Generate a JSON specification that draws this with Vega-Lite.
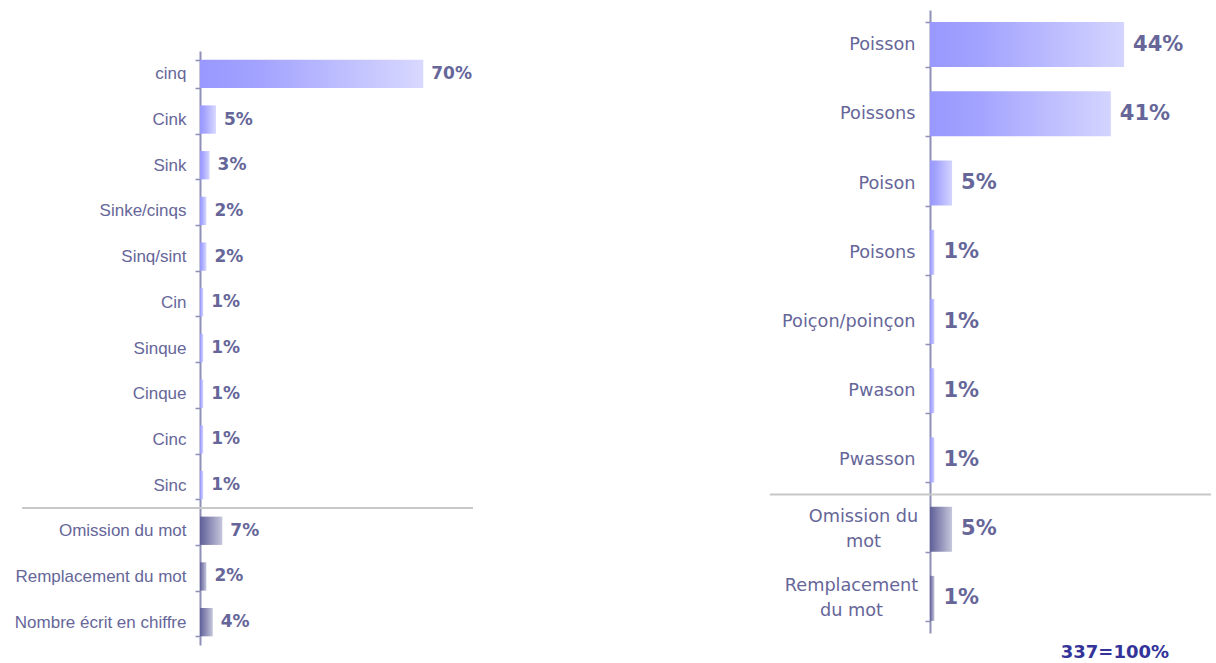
{
  "$schema": "https://vega.github.io/schema/vega-lite/v6.json",
  "background": "white",
  "padding": {"top": 1, "left": 14, "right": 5, "bottom": 0},
  "spacing": 294,
  "config": {"view": {"stroke": null}},
  "datasets": {
    "left": [
      {"cat": "cinq", "pct": 70, "grp": "main", "label": "70%"},
      {"cat": "Cink", "pct": 5, "grp": "main", "label": "5%"},
      {"cat": "Sink", "pct": 3, "grp": "main", "label": "3%"},
      {"cat": "Sinke/cinqs", "pct": 2, "grp": "main", "label": "2%"},
      {"cat": "Sinq/sint", "pct": 2, "grp": "main", "label": "2%"},
      {"cat": "Cin", "pct": 1, "grp": "main", "label": "1%"},
      {"cat": "Sinque", "pct": 1, "grp": "main", "label": "1%"},
      {"cat": "Cinque", "pct": 1, "grp": "main", "label": "1%"},
      {"cat": "Cinc", "pct": 1, "grp": "main", "label": "1%"},
      {"cat": "Sinc", "pct": 1, "grp": "main", "label": "1%"},
      {"cat": "Omission du mot", "pct": 7, "grp": "other", "label": "7%"},
      {"cat": "Remplacement du mot", "pct": 2, "grp": "other", "label": "2%"},
      {"cat": "Nombre écrit en chiffre", "pct": 4, "grp": "other", "label": "4%"}
    ],
    "right": [
      {"cat": "Poisson", "pct": 44, "grp": "main", "label": "44%"},
      {"cat": "Poissons", "pct": 41, "grp": "main", "label": "41%"},
      {"cat": "Poison", "pct": 5, "grp": "main", "label": "5%"},
      {"cat": "Poisons", "pct": 1, "grp": "main", "label": "1%"},
      {"cat": "Poiçon/poinçon", "pct": 1, "grp": "main", "label": "1%"},
      {"cat": "Pwason", "pct": 1, "grp": "main", "label": "1%"},
      {"cat": "Pwasson", "pct": 1, "grp": "main", "label": "1%"},
      {"cat": "Omission du mot", "pct": 5, "grp": "other", "label": "5%"},
      {"cat": "Remplacement du mot", "pct": 1, "grp": "other", "label": "1%"}
    ]
  },
  "hconcat": [
    {
      "width": 273,
      "height": 635,
      "data": {"name": "left"},
      "encoding": {
        "y": {
          "field": "cat", "type": "nominal", "sort": null,
          "scale": {"domain": ["cinq", "Cink", "Sink", "Sinke/cinqs", "Sinq/sint", "Cin", "Sinque", "Cinque", "Cinc", "Sinc", "Omission du mot", "Remplacement du mot", "Nombre écrit en chiffre"], "range": [41, 635], "paddingInner": 0.38, "paddingOuter": 0.19},
          "axis": {"title": null, "labelFont": "Liberation Sans", "labelFontSize": 17, "labelColor": "#666699", "labelPadding": 9, "tickSize": 5, "tickColor": "#8f8fb8", "tickWidth": 1.5, "domainColor": "#8f8fb8", "domainWidth": 2, "tickBand": "extent", "labelLimit": 300}
        }
      },
      "layer": [
        {
          "mark": {"type": "rule", "color": "#c8c8c8", "strokeWidth": 2, "yOffset": -22.85},
          "transform": [{"filter": "datum.cat === 'Omission du mot'"}],
          "encoding": {
            "x": {"datum": -55.8, "type": "quantitative", "scale": {"domain": [0, 85.6], "nice": false}, "axis": null},
            "x2": {"datum": 85.6}
          }
        },
        {
          "mark": {"type": "bar"},
          "encoding": {
            "x": {"field": "pct", "type": "quantitative", "scale": {"domain": [0, 85.6], "nice": false}, "axis": null},
            "fill": {
              "condition": {"test": "datum.grp === 'other'", "value": {"gradient": "linear", "x1": 0, "y1": 0, "x2": 1, "y2": 0, "stops": [{"offset": 0, "color": "#5f5f98"}, {"offset": 1, "color": "#c6c6dc"}]}},
              "value": {"gradient": "linear", "x1": 0, "y1": 0, "x2": 1, "y2": 0, "stops": [{"offset": 0, "color": "#9898ff"}, {"offset": 0.25, "color": "#a2a2ff"}, {"offset": 1, "color": "#d8d8ff"}]}
            }
          }
        },
        {
          "mark": {"type": "text", "align": "left", "dx": 8, "font": "DejaVu Sans", "fontWeight": "bold", "fontSize": 17, "color": "#666699"},
          "encoding": {
            "x": {"field": "pct", "type": "quantitative"},
            "text": {"field": "label"}
          }
        }
      ]
    },
    {
      "width": 281,
      "height": 623,
      "title": {"text": "337=100%", "orient": "bottom", "anchor": "end", "color": "#333399", "font": "DejaVu Sans", "fontSize": 18, "fontWeight": "bold", "offset": 11, "dx": -43},
      "data": {"name": "right"},
      "encoding": {
        "y": {
          "field": "cat", "type": "nominal", "sort": null,
          "scale": {"domain": ["Poisson", "Poissons", "Poison", "Poisons", "Poiçon/poinçon", "Pwason", "Pwasson", "Omission du mot", "Remplacement du mot"], "paddingInner": 0.35, "paddingOuter": 0.175},
          "axis": {"title": null, "labelFont": "DejaVu Sans", "labelFontSize": 17.7, "labelColor": "#666699", "tickSize": 5, "tickColor": "#8f8fb8", "tickWidth": 1.5, "domainColor": "#8f8fb8", "domainWidth": 2, "tickBand": "extent", "labelLimit": 300, "labelLineHeight": 25,
            "labelOffset": {"condition": {"test": "datum.value === 'Omission du mot' || datum.value === 'Remplacement du mot'", "value": -12.5}, "value": 0},
            "labelAlign": {"condition": {"test": "datum.value === 'Omission du mot' || datum.value === 'Remplacement du mot'", "value": "center"}, "value": "right"},
            "labelPadding": {"condition": [{"test": "datum.value === 'Omission du mot'", "value": 62}, {"test": "datum.value === 'Remplacement du mot'", "value": 74}], "value": 10},
            "labelExpr": "datum.label === 'Omission du mot' ? ['Omission du', 'mot'] : datum.label === 'Remplacement du mot' ? ['Remplacement', 'du mot'] : datum.label"}
        }
      },
      "layer": [
        {
          "mark": {"type": "rule", "color": "#c8c8c8", "strokeWidth": 2, "yOffset": -34.6},
          "transform": [{"filter": "datum.cat === 'Omission du mot'"}],
          "encoding": {
            "x": {"datum": -36.3, "type": "quantitative", "scale": {"domain": [0, 63.7], "nice": false}, "axis": null},
            "x2": {"datum": 63.7}
          }
        },
        {
          "mark": {"type": "bar"},
          "encoding": {
            "x": {"field": "pct", "type": "quantitative", "scale": {"domain": [0, 63.7], "nice": false}, "axis": null},
            "fill": {
              "condition": {"test": "datum.grp === 'other'", "value": {"gradient": "linear", "x1": 0, "y1": 0, "x2": 1, "y2": 0, "stops": [{"offset": 0, "color": "#5f5f98"}, {"offset": 1, "color": "#c6c6dc"}]}},
              "value": {"gradient": "linear", "x1": 0, "y1": 0, "x2": 1, "y2": 0, "stops": [{"offset": 0, "color": "#9898ff"}, {"offset": 0.25, "color": "#a2a2ff"}, {"offset": 1, "color": "#d4d4ff"}]}
            }
          }
        },
        {
          "mark": {"type": "text", "align": "left", "dx": 9, "font": "DejaVu Sans", "fontWeight": "bold", "fontSize": 21, "color": "#666699"},
          "encoding": {
            "x": {"field": "pct", "type": "quantitative"},
            "text": {"field": "label"}
          }
        }
      ]
    }
  ]
}
